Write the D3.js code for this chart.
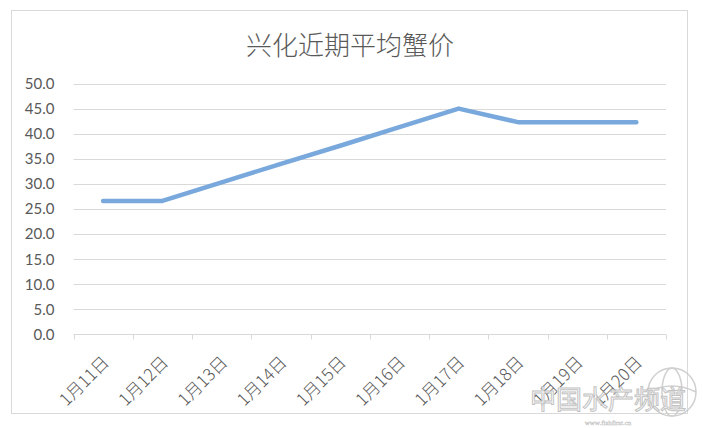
<!DOCTYPE html>
<html>
<head>
<meta charset="utf-8">
<script src="https://cdn.jsdelivr.net/npm/d3@7"></script>
<style>
  html, body { margin: 0; padding: 0; background: #ffffff; }
  svg { display: block; }
</style>
</head>
<body>
<svg id="chart" width="703" height="428"></svg>
<script>
const title = "兴化近期平均蟹价";
const categories = ["1月11日", "1月12日", "1月13日", "1月14日", "1月15日", "1月16日", "1月17日", "1月18日", "1月19日", "1月20日"];
const prices = [26.6, 26.6, 30.3, 34.0, 37.6, 41.3, 45.0, 42.3, 42.3, 42.3];
const yTicks = [0, 5, 10, 15, 20, 25, 30, 35, 40, 45, 50];
const watermark = "中国水产频道";
const watermarkUrl = "www.fishfirst.cn";

const svg = d3.select("#chart");
const m = { left: 73.5, right: 666, top: 83.5, bottom: 334.5 };

// chart area border
svg.append("rect")
  .attr("x", 11.5).attr("y", 10.5)
  .attr("width", 676).attr("height", 403)
  .attr("fill", "#ffffff")
  .attr("stroke", "#d9d9d9").attr("stroke-width", 1);

const x = d3.scaleBand().domain(categories).range([m.left, m.right]).padding(0);
const y = d3.scaleLinear().domain([0, 50]).range([m.bottom, m.top]);

// title
svg.append("text")
  .attr("x", 350).attr("y", 55)
  .attr("text-anchor", "middle")
  .attr("font-family", "'Noto Sans CJK SC', sans-serif")
  .attr("font-size", 26)
  .attr("font-weight", 300)
  .attr("fill", "#595959")
  .text(title);

// gridlines
svg.append("g")
  .selectAll("line")
  .data(yTicks.filter(d => d > 0))
  .join("line")
  .attr("x1", m.left).attr("x2", m.right)
  .attr("y1", d => Math.round(y(d)) + 0.5).attr("y2", d => Math.round(y(d)) + 0.5)
  .attr("stroke", "#d9d9d9").attr("stroke-width", 1);

// y axis labels
const yAxis = d3.axisLeft(y).tickValues(yTicks).tickFormat(d3.format(".1f")).tickSize(0).tickPadding(19);
const gy = svg.append("g").attr("transform", `translate(${m.left},0)`).call(yAxis);
gy.select(".domain").remove();
gy.selectAll("text")
  .attr("font-family", "Lato, 'Noto Sans', sans-serif")
  .attr("font-size", 15)
  .attr("fill", "#595959");

// x axis
const xAxis = d3.axisBottom(x).tickSize(0).tickFormat("");
const gx = svg.append("g").attr("transform", `translate(0,${m.bottom})`).call(xAxis);
gx.select(".domain").attr("stroke", "#d9d9d9").attr("d", `M${m.left},0H${m.right}`);
const bounds = categories.map(c => x(c)).concat([m.right]);
gx.selectAll(".sep")
  .data(bounds)
  .join("line")
  .attr("class", "sep")
  .attr("x1", d => Math.round(d) + 0.5).attr("x2", d => Math.round(d) + 0.5)
  .attr("y1", 0).attr("y2", 5)
  .attr("stroke", "#d9d9d9");

gx.selectAll(".lbl")
  .data(categories)
  .join("text")
  .attr("class", "lbl")
  .attr("transform", d => `translate(${x(d) + x.bandwidth() / 2 + 7},${29}) rotate(-45)`)
  .attr("text-anchor", "end")
  .attr("font-family", "'Noto Sans CJK SC', sans-serif")
  .attr("font-size", 17)
  .attr("font-weight", 300)
  .attr("fill", "#595959")
  .text(d => d);

// line
const line = d3.line()
  .x((d, i) => x(categories[i]) + x.bandwidth() / 2)
  .y(d => y(d));
svg.append("path")
  .datum(prices)
  .attr("d", line)
  .attr("fill", "none")
  .attr("stroke", "#78a8dc")
  .attr("stroke-width", 4.5)
  .attr("stroke-linecap", "round")
  .attr("stroke-linejoin", "round");

// watermark
const wm = svg.append("g").attr("opacity", 0.85);
const globe = wm.append("g").attr("fill", "none").attr("stroke", "#c8c8c8").attr("stroke-width", 1.5);
globe.append("circle").attr("cx", 672).attr("cy", 392).attr("r", 24);
globe.append("ellipse").attr("cx", 672).attr("cy", 392).attr("rx", 10).attr("ry", 24);
globe.append("path").attr("d", "M648,392 Q672,380 696,392");
wm.append("text")
  .attr("x", 608).attr("y", 409)
  .attr("text-anchor", "middle")
  .attr("font-family", "'Noto Sans CJK SC', sans-serif")
  .attr("font-size", 26)
  .attr("fill", "#ffffff")
  .attr("stroke", "#b8b8b8")
  .attr("stroke-width", 1)
  .text(watermark);
wm.append("text")
  .attr("x", 608).attr("y", 425)
  .attr("text-anchor", "middle")
  .attr("font-family", "'Liberation Serif', serif")
  .attr("font-size", 7)
  .attr("fill", "#ffffff")
  .attr("stroke", "#b8b8b8")
  .attr("stroke-width", 0.4)
  .text(watermarkUrl);
</script>
</body>
</html>
